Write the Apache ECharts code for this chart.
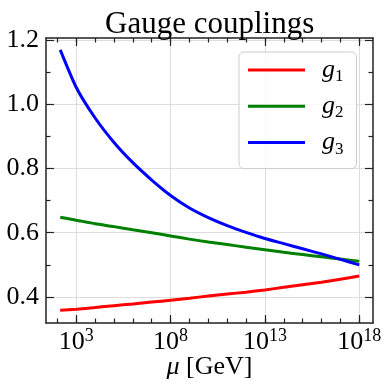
<!DOCTYPE html>
<html><head><meta charset="utf-8">
<script src="https://cdn.jsdelivr.net/npm/echarts@6/dist/echarts.min.js"></script>
<style>html,body{margin:0;padding:0;background:#fff}#c{width:382px;height:382px}</style>
</head><body><div id="c"></div>
<script>
// log10(mu / GeV)
const muExp = [2.15, 3, 4, 5, 6, 7, 8, 9, 10, 11, 12, 13, 14, 15, 16, 17, 18];
const g1 = [0.359, 0.362, 0.367, 0.373, 0.378, 0.384, 0.390, 0.396, 0.403, 0.409, 0.415, 0.422, 0.430, 0.438, 0.446, 0.455, 0.465];
const g2 = [0.648, 0.639, 0.628, 0.619, 0.609, 0.600, 0.590, 0.580, 0.571, 0.563, 0.555, 0.547, 0.539, 0.532, 0.525, 0.518, 0.511];
const g3 = [1.169, 1.052, 0.957, 0.881, 0.818, 0.764, 0.716, 0.677, 0.647, 0.622, 0.601, 0.582, 0.566, 0.550, 0.534, 0.517, 0.500];
const seriesNames = ['g1', 'g2', 'g3'];
const xMajor = [3, 8, 13, 18];
const xMinor = [2, 3, 4, 5, 6, 7, 8, 9, 10, 11, 12, 13, 14, 15, 16, 17, 18];
const yMajor = [0.4, 0.6, 0.8, 1.0, 1.2];
const yMinor = [0.5, 0.7, 0.9, 1.1];
const xRange = [1.395, 18.73];
const yRange = [0.319, 1.206];

const FONT = 'Liberation Serif';
const AX = '#222';
const chart = echarts.init(document.getElementById('c'), null, {renderer: 'canvas'});

function xAxisDef(pos, ticks, len, major) {
  return {
    type: 'value', position: pos, min: xRange[0], max: xRange[1],
    axisLine: {show: major, lineStyle: {color: AX, width: 1.5}},
    axisTick: {show: true, inside: true, length: len, customValues: ticks, lineStyle: {color: AX, width: 1.2}},
    axisLabel: (major && pos === 'bottom') ? {
      show: true, customValues: xMajor, margin: 4,
      formatter: v => '{b|10}{s|' + Math.round(v) + '}',
      rich: {
        b: {fontFamily: FONT, fontSize: 26, lineHeight: 30, color: '#000', verticalAlign: 'middle'},
        s: {fontFamily: FONT, fontSize: 18, lineHeight: 12, color: '#000', verticalAlign: 'top'}
      }
    } : {show: false},
    splitLine: {show: major && pos === 'bottom', lineStyle: {color: '#dddddd', width: 1}},
    name: (major && pos === 'bottom') ? '{m|μ} [GeV]' : '',
    nameLocation: 'middle', nameGap: 31, nameMoveOverlap: false,
    nameTextStyle: {fontFamily: FONT, fontSize: 26, color: '#000',
      rich: {m: {fontFamily: FONT, fontSize: 26, fontStyle: 'italic', color: '#000'}}}
  };
}
function yAxisDef(pos, ticks, len, major) {
  return {
    type: 'value', position: pos, min: yRange[0], max: yRange[1],
    axisLine: {show: major, lineStyle: {color: AX, width: 1.5}},
    axisTick: {show: true, inside: true, length: len, customValues: ticks, lineStyle: {color: AX, width: 1.2}},
    axisLabel: (major && pos === 'left') ? {
      show: true, customValues: yMajor, margin: 7,
      formatter: v => v.toFixed(1),
      fontFamily: FONT, fontSize: 26, color: '#000'
    } : {show: false},
    splitLine: {show: major && pos === 'left', lineStyle: {color: '#dddddd', width: 1}}
  };
}

const colors = ['#ff0000', '#008000', '#0000ff'];
const data = [g1, g2, g3];

chart.setOption({
  animation: false,
  backgroundColor: '#fff',
  title: {text: 'Gauge couplings', left: 100, top: 4,
    textStyle: {fontFamily: FONT, fontSize: 31, fontWeight: 'normal', color: '#000'}},
  grid: {left: 46, right: 9, top: 38, bottom: 59, containLabel: false, outerBoundsMode: 'none'},
  legend: {
    orient: 'vertical', left: 239, top: 52,
    padding: [5, 13, 11, 9], itemGap: 8.3,
    itemWidth: 57, itemHeight: 3, icon: 'rect',
    backgroundColor: 'rgba(255,255,255,0.8)', borderColor: '#cccccc', borderWidth: 1, borderRadius: 5,
    data: seriesNames,
    formatter: n => '{i|g}{s|' + n.slice(1) + '}',
    textStyle: {
      padding: [0, 0, 0, 12],
      rich: {
        i: {fontFamily: FONT, fontSize: 26, fontStyle: 'italic', lineHeight: 30, color: '#000', verticalAlign: 'middle'},
        s: {fontFamily: FONT, fontSize: 17, lineHeight: 10, color: '#000', verticalAlign: 'bottom'}
      }
    }
  },
  xAxis: [
    xAxisDef('bottom', xMajor, 8, true),
    xAxisDef('bottom', xMinor, 4.5, false),
    xAxisDef('top', xMajor, 8, true),
    xAxisDef('top', xMinor, 4.5, false)
  ],
  yAxis: [
    yAxisDef('left', yMajor, 8, true),
    yAxisDef('left', yMinor, 4.5, false),
    yAxisDef('right', yMajor, 8, true),
    yAxisDef('right', yMinor, 4.5, false)
  ],
  series: seriesNames.map((n, k) => ({
    name: n, type: 'line', xAxisIndex: 0, yAxisIndex: 0,
    data: muExp.map((e, i) => [e, data[k][i]]),
    smooth: 0.2, showSymbol: false, symbol: 'none',
    lineStyle: {color: colors[k], width: 3}, itemStyle: {color: colors[k]}
  }))
});
</script></body></html>
